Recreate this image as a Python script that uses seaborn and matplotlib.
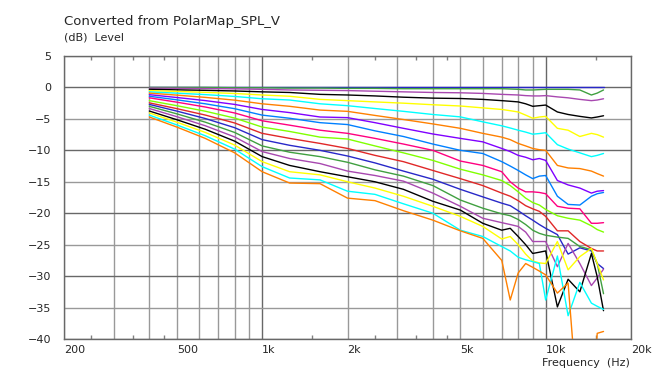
import pandas as pd
import seaborn as sns
import matplotlib.pyplot as plt
from matplotlib.ticker import NullFormatter

freqs = [400, 500, 630, 800, 1000, 1250, 1600, 2000, 2500, 3150, 4000, 5000, 6000,
         7000, 7500, 8000, 8500, 9000, 9500, 10000, 11000, 12000, 13200, 14500, 15200, 16000]

# one curve per angle, dB relative to on-axis
lvl_00 = [0.0] * 26
lvl_05 = [0, 0, 0, -0.05, -0.05, -0.1, -0.1, -0.15, -0.15, -0.2, -0.2, -0.2, -0.2,
          -0.2, -0.25, -0.3, -0.4, -0.4, -0.35, -0.3, -0.3, -0.3, -0.4, -1.2, -0.9, -0.4]
lvl_10 = [-0.1, -0.14, -0.18, -0.23, -0.3, -0.4, -0.45, -0.5, -0.6, -0.7, -0.8, -0.85, -0.95,
          -1.1, -1.15, -1.2, -1.3, -1.35, -1.35, -1.3, -1.5, -1.65, -1.9, -2.1, -2.0, -1.8]
lvl_15 = [-0.3, -0.38, -0.46, -0.56, -0.7, -0.8, -1.1, -1.2, -1.35, -1.55, -1.7, -1.76, -1.9,
          -2.1, -2.2, -2.3, -2.6, -3.0, -2.9, -2.8, -3.9, -4.3, -4.6, -4.85, -4.7, -4.5]
lvl_20 = [-0.5, -0.63, -0.78, -0.96, -1.2, -1.4, -1.9, -2.1, -2.3, -2.5, -2.75, -2.95, -3.25,
          -3.5, -3.7, -3.9, -4.4, -4.9, -4.7, -4.6, -6.5, -6.8, -7.8, -7.3, -7.5, -7.9]
lvl_25 = [-0.7, -0.91, -1.14, -1.43, -1.8, -2.0, -2.6, -2.9, -3.35, -3.8, -4.3, -4.68, -5.47,
          -6.1, -6.45, -6.8, -7.1, -7.43, -7.33, -7.2, -9.1, -9.8, -10.4, -11.0, -10.8, -10.5]
lvl_30 = [-0.9, -1.22, -1.58, -2.02, -2.6, -3.0, -3.6, -3.8, -4.45, -5.1, -5.8, -6.5, -7.3,
          -7.9, -8.3, -8.9, -9.3, -9.7, -9.9, -10.0, -12.4, -12.8, -12.9, -13.3, -13.7, -14.1]
lvl_35 = [-1.15, -1.6, -2.09, -2.7, -3.5, -4.0, -4.7, -4.8, -5.6, -6.5, -7.4, -8.1, -8.65,
          -9.7, -10.2, -10.8, -11.1, -11.5, -11.3, -11.6, -14.8, -15.5, -16.0, -16.8, -16.5, -16.4]
lvl_40 = [-1.4, -1.97, -2.6, -3.38, -4.4, -4.9, -5.6, -5.9, -6.9, -7.8, -9.0, -10.0, -10.5,
          -11.8, -12.5, -13.2, -13.9, -14.5, -14.1, -14.0, -17.3, -18.6, -18.7, -17.3, -16.9, -16.7]
lvl_45 = [-1.65, -2.34, -3.11, -4.06, -5.3, -6.0, -6.8, -7.3, -8.1, -9.0, -10.0, -11.7, -12.4,
          -13.4, -15.0, -16.0, -16.6, -16.6, -16.7, -16.9, -18.9, -19.2, -19.3, -21.6, -21.6, -21.5]
lvl_50 = [-2.1, -2.9, -3.78, -4.87, -6.3, -7.0, -7.9, -8.2, -9.3, -10.4, -11.6, -13.0, -13.9,
          -14.8, -15.6, -16.6, -17.6, -18.3, -18.7, -19.4, -20.4, -20.8, -21.1, -22.0, -22.6, -23.0]
lvl_55 = [-2.45, -3.37, -4.39, -5.65, -7.3, -8.1, -8.9, -9.7, -10.8, -11.8, -13.2, -14.5, -15.6,
          -16.8, -17.3, -18.0, -18.8, -19.3, -19.7, -20.5, -22.8, -22.8, -24.5, -25.6, -26.0, -26.0]
lvl_60 = [-2.7, -3.76, -4.94, -6.4, -8.3, -9.2, -10.0, -10.9, -12.0, -13.3, -14.6, -16.2, -17.4,
          -18.4, -18.8, -19.6, -20.4, -21.1, -21.8, -22.4, -23.4, -26.5, -25.5, -26.0, -28.0, -28.8]
lvl_65 = [-3.0, -4.2, -5.52, -7.16, -9.3, -10.3, -11.0, -11.9, -13.1, -14.1, -15.6, -17.9, -19.2,
          -20.1, -20.4, -21.0, -21.8, -22.7, -23.2, -23.5, -23.8, -24.0, -25.3, -25.8, -28.0, -32.8]
lvl_70 = [-3.35, -4.65, -6.09, -7.87, -10.2, -11.3, -12.1, -13.3, -14.0, -14.9, -16.8, -18.9, -20.8,
          -21.5, -21.8, -22.1, -23.0, -24.5, -24.5, -24.5, -28.5, -24.8, -28.0, -31.5, -30.3, -28.9]
lvl_75 = [-3.75, -5.13, -6.65, -8.54, -11.0, -12.4, -13.4, -14.2, -15.0, -16.2, -18.1, -19.5, -21.6,
          -22.7, -22.4, -23.7, -25.0, -26.4, -26.2, -26.0, -34.9, -30.5, -32.5, -26.4, -30.1, -35.5]
lvl_80 = [-4.05, -5.52, -7.15, -9.17, -11.8, -13.4, -13.9, -15.0, -16.0, -17.3, -18.9, -20.5, -22.1,
          -24.1, -23.7, -25.0, -26.5, -27.6, -27.9, -28.0, -24.5, -29.0, -26.9, -25.6, -28.0, -30.6]
lvl_85 = [-4.4, -5.96, -7.68, -9.81, -12.6, -14.4, -14.7, -16.5, -17.0, -18.5, -20.0, -22.7, -23.7,
          -25.3, -26.0, -27.0, -27.4, -27.7, -28.0, -33.8, -26.8, -36.3, -31.0, -34.3, -34.8, -35.3]
lvl_90 = [-4.7, -6.3, -8.1, -10.4, -13.4, -15.2, -15.3, -17.6, -18.0, -19.6, -21.1, -22.8, -24.0,
          -27.5, -33.8, -29.5, -28.0, -28.6, -29.2, -29.8, -32.7, -31.1, -55, -55, -39.1, -38.8]

curves = [lvl_00, lvl_05, lvl_10, lvl_15, lvl_20, lvl_25, lvl_30, lvl_35, lvl_40, lvl_45,
          lvl_50, lvl_55, lvl_60, lvl_65, lvl_70, lvl_75, lvl_80, lvl_85, lvl_90]
angles = [str(5 * i) for i in range(len(curves))]

colors = ['#2828c8', '#40a040', '#a848b0', '#000000', '#ffff00', '#00ffff', '#ff8000',
          '#8000ff', '#0080ff', '#ff0080', '#80ff00', '#e02828',
          '#2828c8', '#40a040', '#a848b0', '#000000', '#ffff00', '#00ffff', '#ff8000']

grid_x = [200, 300, 400, 500, 600, 700, 800, 900, 1000, 2000, 3000, 4000, 5000,
          6000, 7000, 8000, 9000, 10000, 20000]
grid_lbl = ['200', '', '', '500', '', '', '', '', '1k', '2k', '', '', '5k',
            '', '', '', '', '10k', '20k']
minor_x = [250, 350, 450, 1500, 2500, 3500, 4500, 15000]

rows = []
for ang, lv in zip(angles, curves):
    for f, v in zip(freqs, lv):
        rows.append((ang, f, v))
df = pd.DataFrame(rows, columns=['angle', 'freq', 'level'])

sns.set_style('white')
plt.rcParams['font.family'] = ['DejaVu Sans']

fig = plt.figure(figsize=(6.54, 3.74), dpi=100)
ax = fig.add_axes([64 / 654, 35 / 374, 567 / 654, 283 / 374])
ax.set_xscale('log')

sns.lineplot(data=df, x='freq', y='level', hue='angle', hue_order=angles,
             palette=dict(zip(angles, colors)), estimator=None, linewidth=1,
             legend=False, ax=ax)

ax.set_xlim(200, 20000)
ax.set_ylim(-40, 5)
ax.set_xticks(grid_x)
ax.set_xticklabels(grid_lbl)
for t in ax.get_xticklabels():
    t.set_ha('left')
ax.set_xticks(minor_x, minor=True)
ax.xaxis.set_minor_formatter(NullFormatter())
ax.set_yticks(range(-40, 6, 5))
ax.set_xlabel('')
ax.set_ylabel('')

ax.tick_params(axis='x', which='major', length=0, pad=4, labelsize=8)
ax.tick_params(axis='x', which='minor', length=3, direction='in', top=True,
               bottom=True, color='#808080', width=1)
ax.tick_params(axis='y', which='major', length=0, pad=9, labelsize=8)

ax.set_axisbelow(True)
ax.grid(True, which='major', color='#999999', linewidth=1)
for f, gl in zip(grid_x, ax.get_xgridlines()):
    if f in (1000, 10000):
        gl.set_color('#686868')
for v, gl in zip(range(-40, 6, 5), ax.get_ygridlines()):
    if v % 10 == 0:
        gl.set_color('#686868')
for s in ax.spines.values():
    s.set_color('#686868')
    s.set_linewidth(1)

fig.text(64 / 654, 1 - 21 / 374, 'Converted from PolarMap_SPL_V', fontsize=9.5, va='center')
fig.text(64 / 654, 1 - 38 / 374, '(dB)  Level', fontsize=8, va='center')
fig.text(630 / 654, 1 - 363 / 374, 'Frequency  (Hz)', fontsize=8, ha='right', va='center')

fig.savefig('out.png', dpi=100)
